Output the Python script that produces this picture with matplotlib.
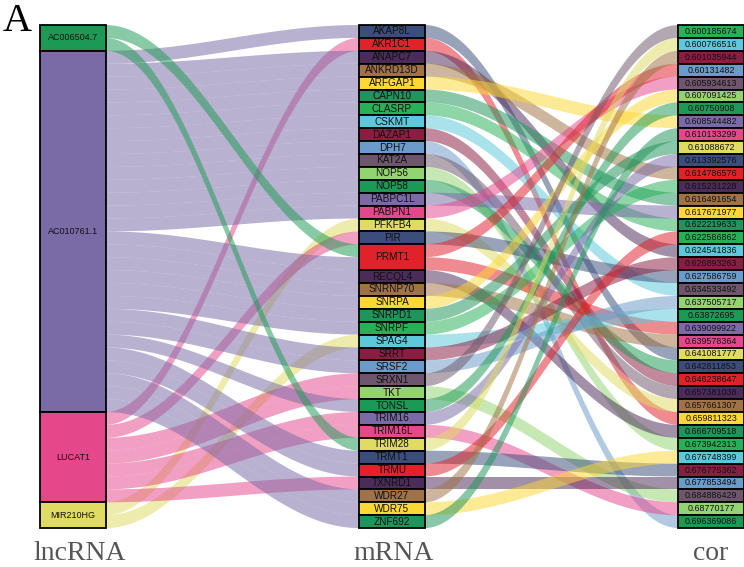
import numpy as np
import matplotlib
matplotlib.use("Agg")
import matplotlib.pyplot as plt
from matplotlib.patches import Rectangle

# one row per alluvium: lncRNA -> mRNA -> cor
lnc = ["AC010761.1", "LUCAT1", "AC010761.1", "AC010761.1", "AC010761.1", "AC010761.1",
       "AC010761.1", "AC010761.1", "AC010761.1", "AC010761.1", "AC010761.1", "AC010761.1",
       "AC010761.1", "AC010761.1", "AC010761.1", "MIR210HG", "LUCAT1", "AC006504.7",
       "AC010761.1", "AC010761.1", "AC010761.1", "AC010761.1", "AC010761.1", "AC010761.1",
       "MIR210HG", "AC010761.1", "AC010761.1", "LUCAT1", "LUCAT1", "AC010761.1",
       "LUCAT1", "LUCAT1", "AC006504.7", "AC010761.1", "AC010761.1", "LUCAT1",
       "AC010761.1", "AC010761.1", "AC010761.1"]
mrna = ["AKAP8L", "AKR1C1", "ANAPC7", "ANKRD13D", "ARFGAP1", "CAPN10", "CLASRP", "CSKMT",
        "DAZAP1", "DPH7", "KAT2A", "NOP56", "NOP58", "PABPC1L", "PABPN1", "PFKFB4", "PIR",
        "PRMT1", "PRMT1", "RECQL4", "SNRNP70", "SNRPA", "SNRPD1", "SNRPF", "SPAG4", "SRRT",
        "SRSF2", "SRXN1", "TKT", "TONSL", "TRIM16", "TRIM16L", "TRIM28", "TRMT1", "TRMU",
        "TXNRD1", "WDR27", "WDR75", "ZNF692"]
cor = ["0.641081777", "0.659811323", "0.624541836", "0.614786576", "0.608544482",
       "0.616491654", "0.622219633", "0.634533492", "0.646238647", "0.696369086",
       "0.657381038", "0.673942313", "0.642811853", "0.617671977", "0.605934613",
       "0.657661307", "0.627586759", "0.60131482", "0.639099922", "0.666709518",
       "0.639578364", "0.607091425", "0.61088672", "0.615231228", "0.63872695",
       "0.626893263", "0.637505717", "0.600185674", "0.684886429", "0.60750908",
       "0.613392576", "0.68770177", "0.600766516", "0.676775362", "0.622586862",
       "0.677853494", "0.601035944", "0.676748399", "0.610133299"]

palette = ["#3B4D7A", "#E2222A", "#4B2B57", "#A07245", "#FDD734", "#1F955B",
           "#26B157", "#5CC9DB", "#8A1E42", "#6B9BC8", "#6E566C", "#93D371",
           "#1C9A55", "#7A6AA6", "#E5478B", "#E0DB62"]

n = len(mrna)
w = 0.204
fig = plt.figure(figsize=(7.44, 5.67), dpi=100)
ax = fig.add_axes([0, 0, 1, 1])
ax.set_xlim(1 - 73 / 319, 1 + 671 / 319)
ax.set_ylim((567 - 25) / 12.9, -25 / 12.9)
ax.axis("off")

lnc_levels = sorted(set(lnc))
mrna_levels = sorted(set(mrna))
cor_levels = sorted(set(cor), key=float)
lnc_col = {s: palette[(12 + i) % 16] for i, s in enumerate(lnc_levels)}
mrna_col = {s: palette[i % 16] for i, s in enumerate(mrna_levels)}
cor_col = {s: palette[(6 + i) % 16] for i, s in enumerate(cor_levels)}


def stack(levels, values, keyf):
    # stratum extents and lode positions within each stratum
    starts, pos, y = {}, [0.0] * n, 0.0
    for s in levels:
        idx = sorted([i for i in range(n) if values[i] == s], key=keyf)
        starts[s] = (y, y + len(idx))
        for i in idx:
            pos[i] = y
            y += 1
    return starts, pos


m_order = {s: k for k, s in enumerate(mrna_levels)}
l_order = {s: k for k, s in enumerate(lnc_levels)}
lnc_st, lnc_pos = stack(lnc_levels, lnc, lambda i: (m_order[mrna[i]], i))
mrna_st, mrna_pos = stack(mrna_levels, mrna, lambda i: (l_order[lnc[i]], i))
cor_st, cor_pos = stack(cor_levels, cor, lambda i: i)

t = np.linspace(0, 1, 80)
s = (1 - np.cos(np.pi * t)) / 2


def flow(x0, x1, y0, y1, color):
    xs = x0 + (x1 - x0) * t
    ys = y0 + (y1 - y0) * s
    ax.fill_between(xs, ys, ys + 1, facecolor=color, edgecolor="none", alpha=0.52, zorder=1)


for i in range(n):
    flow(1 + w / 2, 2 - w / 2, lnc_pos[i], mrna_pos[i], lnc_col[lnc[i]])
for i in range(n):
    flow(2 + w / 2, 3 - w / 2, mrna_pos[i], cor_pos[i], mrna_col[mrna[i]])


def strata(x, st, cols, fs):
    for name, (a, b) in st.items():
        ax.add_patch(Rectangle((x - w / 2, a), w, b - a, facecolor=cols[name],
                               edgecolor="black", lw=1.3, zorder=3))
        ax.text(x, (a + b) / 2, name, ha="center", va="center", fontsize=fs,
                family="Liberation Sans", color="#111111", zorder=4)


strata(1, lnc_st, lnc_col, 6.5)
strata(2, mrna_st, mrna_col, 7.2)
strata(3, cor_st, cor_col, 6.4)

for x, lab in zip([1.02, 2.005, 3], ["lncRNA", "mRNA", "cor"]):
    ax.text(x, (553 - 25) / 12.9, lab, ha="center", va="center", fontsize=20,
            family="Liberation Serif", color="#555555")
fig.text(0.004, 0.995, "A", ha="left", va="top", fontsize=29, family="Liberation Serif")

fig.savefig("out.png", dpi=100)
